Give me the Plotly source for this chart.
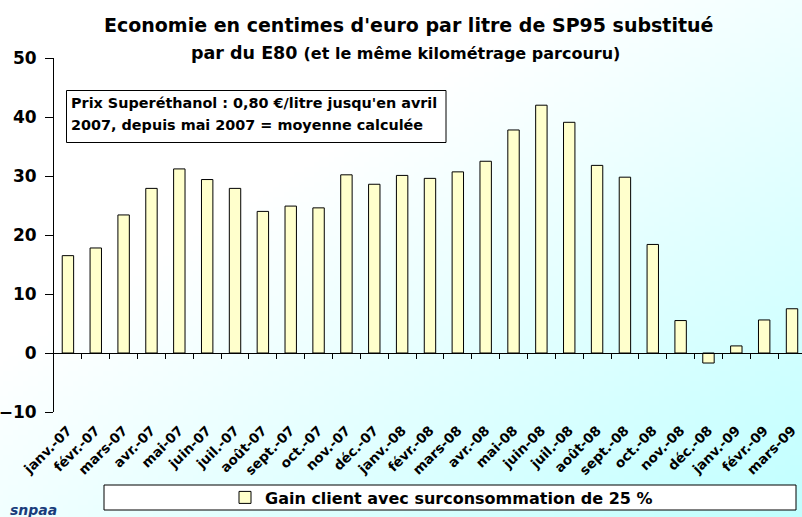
import base64
import struct
import zlib
import plotly.graph_objects as go

# ---- data ----
categories = ["janv.-07", "févr.-07", "mars-07", "avr.-07", "mai-07", "juin-07", "juil.-07",
              "août-07", "sept.-07", "oct.-07", "nov.-07", "déc.-07", "janv.-08", "févr.-08",
              "mars-08", "avr.-08", "mai-08", "juin-08", "juil.-08", "août-08", "sept.-08",
              "oct.-08", "nov.-08", "déc.-08", "janv.-09", "févr.-09", "mars-09"]
gain = [16.5, 17.8, 23.4, 27.9, 31.2, 29.4, 27.9, 24.0, 24.9, 24.6, 30.2, 28.6, 30.1, 29.6,
        30.7, 32.5, 37.8, 42.0, 39.1, 31.8, 29.8, 18.4, 5.5, -1.7, 1.2, 5.6, 7.5]
y_ticks = [-10, 0, 10, 20, 30, 40, 50]
series_name = "Gain client avec surconsommation de 25 %"
title_line1 = "Economie en centimes d'euro par litre de SP95 substitué"
title_line2a = "par du E80"
title_line2b = "(et le même kilométrage parcouru)"
note_line1 = "Prix Superéthanol : 0,80 €/litre jusqu'en avril"
note_line2 = "2007, depuis mai 2007 = moyenne calculée"

# ---- geometry helpers (layout only) ----
FW, FH = 802, 517
ML, MR, MT, MB = 54, 0, 58, 105
PW, PH = FW - ML - MR, FH - MT - MB
cat_px = 27.85
x_range = [-0.5, -0.5 + PW / cat_px]


def px2x(px):
    return (px - ML) / PW


def py2y(py):
    return (FH - MB - py) / PH


FONT = "DejaVu Sans, Verdana, sans-serif"


# ---- diagonal background gradient as a small PNG ----
def gradient_png(w=160, h=104):
    rows = []
    for j in range(h):
        row = bytearray([0])
        for i in range(w):
            t = (i / (w - 1) + j / (h - 1)) / 2.0
            s = max(0.0, (t - 0.35) / 0.65)
            r = int(round(255 - s * 62))
            row += bytes([r, 255, 255])
        rows.append(bytes(row))
    raw = b"".join(rows)

    def chunk(tag, data):
        c = struct.pack(">I", len(data)) + tag + data
        return c + struct.pack(">I", zlib.crc32(tag + data) & 0xFFFFFFFF)

    png = b"\x89PNG\r\n\x1a\n"
    png += chunk(b"IHDR", struct.pack(">IIBBBBB", w, h, 8, 2, 0, 0, 0))
    png += chunk(b"IDAT", zlib.compress(raw, 9))
    png += chunk(b"IEND", b"")
    return "data:image/png;base64," + base64.b64encode(png).decode()


bg_src = gradient_png()

boundaries = [i + 0.5 for i in range(len(categories) - 1)]

fig = go.Figure()
fig.add_trace(go.Bar(
    x=categories, y=gain, name=series_name,
    marker=dict(color="#FFFFCC", line=dict(color="#000000", width=1)),
    hoverinfo="x+y",
))
fig.add_trace(go.Scatter(
    x=boundaries, y=[0] * len(boundaries), mode="none", xaxis="x2",
    showlegend=False, hoverinfo="skip",
))

fig.update_layout(
    width=FW, height=FH,
    margin=dict(l=ML, r=MR, t=MT, b=MB, pad=0, autoexpand=False),
    paper_bgcolor="#ffffff",
    plot_bgcolor="rgba(0,0,0,0)",
    bargap=0.59,
    showlegend=True,
    font=dict(family=FONT, color="#000000"),
    xaxis=dict(
        type="category", categoryorder="array", categoryarray=categories,
        range=x_range, showline=False, ticks="", showgrid=False, zeroline=False,
        tickangle=-45, tickfont=dict(family=FONT, size=13.5, weight="bold"),
        ticklabelstandoff=7,
    ),
    xaxis2=dict(
        overlaying="x", anchor="free", position=(0 - (-10)) / 60, range=x_range,
        tickmode="array", tickvals=boundaries, showticklabels=False,
        ticks="outside", ticklen=5, tickcolor="#000000", tickwidth=1,
        showline=True, linecolor="#000000", linewidth=1,
        showgrid=False, zeroline=False,
    ),
    yaxis=dict(
        range=[-10, 50], tickmode="array", tickvals=y_ticks,
        showline=True, linecolor="#000000", linewidth=1,
        ticks="outside", ticklen=8, tickcolor="#000000",
        showgrid=False, zeroline=False,
        tickfont=dict(family=FONT, size=17, weight="bold"),
        ticklabelstandoff=5,
    ),
    legend=dict(
        orientation="h", x=px2x(225), y=py2y(497.5), xanchor="left", yanchor="middle",
        bgcolor="rgba(0,0,0,0)", borderwidth=0, itemwidth=30,
        font=dict(family=FONT, size=16, weight="bold"),
    ),
    images=[dict(
        source=bg_src, xref="paper", yref="paper",
        x=px2x(0), y=py2y(0), sizex=FW / PW, sizey=FH / PH,
        xanchor="left", yanchor="top", sizing="stretch", layer="below",
    )],
    shapes=[
        dict(type="rect", xref="paper", yref="paper",
             x0=px2x(104), x1=px2x(796), y0=py2y(510), y1=py2y(485),
             line=dict(color="#000000", width=1), fillcolor="#ffffff", layer="below"),
        dict(type="rect", xref="paper", yref="paper",
             x0=px2x(66.5), x1=px2x(446), y0=py2y(142.5), y1=py2y(90.5),
             line=dict(color="#000000", width=1), fillcolor="#ffffff", layer="above"),
    ],
    annotations=[
        dict(text=title_line1, xref="paper", yref="paper", x=px2x(408), y=py2y(25),
             xanchor="center", yanchor="middle", showarrow=False,
             font=dict(family=FONT, size=19, weight="bold")),
        dict(text=title_line2a + " <span style='font-size:16px'>" + title_line2b + "</span>",
             xref="paper", yref="paper", x=px2x(405), y=py2y(53),
             xanchor="center", yanchor="middle", showarrow=False,
             font=dict(family=FONT, size=17.5, weight="bold")),
        dict(text=note_line1, xref="paper", yref="paper", x=px2x(69), y=py2y(103.5),
             xanchor="left", yanchor="middle", align="left", showarrow=False,
             font=dict(family=FONT, size=14.4, weight="bold")),
        dict(text=note_line2, xref="paper", yref="paper", x=px2x(69), y=py2y(125),
             xanchor="left", yanchor="middle", align="left", showarrow=False,
             font=dict(family=FONT, size=14.4, weight="bold")),
        dict(text="<i>snpaa</i>", xref="paper", yref="paper", x=px2x(8), y=py2y(510),
             xanchor="left", yanchor="middle", showarrow=False,
             font=dict(family=FONT, size=14, weight="bold", color="#1a3d7c")),
    ],
)

fig.write_html("out.html", config={"displayModeBar": False},
               post_script="document.body.style.margin='0px';")
